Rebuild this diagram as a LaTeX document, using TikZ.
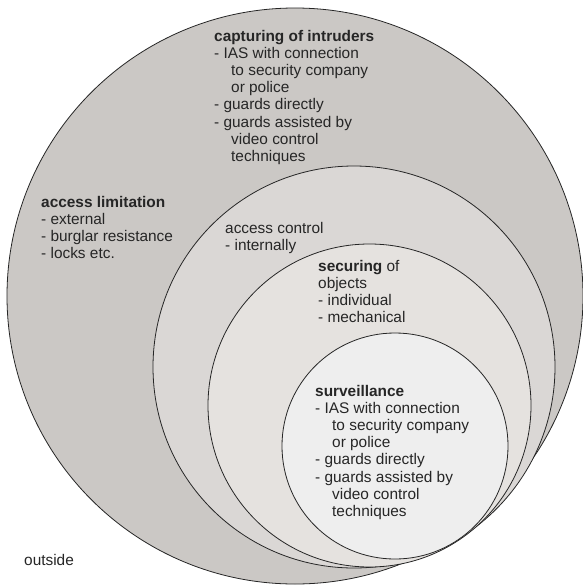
\documentclass[tikz,border=0pt]{standalone}
\usepackage{fontspec}
\setmainfont{Liberation Sans}
\definecolor{zoneA}{RGB}{203,200,197}
\definecolor{zoneB}{RGB}{218,215,213}
\definecolor{zoneC}{RGB}{229,226,223}
\definecolor{zoneD}{RGB}{238,238,238}
\newcommand{\ind}{\hspace*{17pt}}

\begin{document}
\begin{tikzpicture}[x=1pt,y=-1pt]
\tikzstyle{every node}+=[inner sep=0pt]
\tikzstyle{zone}=[draw=black!85, line width=0.8pt]
% base of a multi-line node is its last line
\tikzstyle{txt}=[anchor=base west, align=left, text=black!85, font=\fontsize{15.4}{17.2}\selectfont]
\useasboundingbox (0,0) rectangle (582,587);
\fill [white] (0,0) rectangle (582,587);
% nested zones
\draw [zone, fill=zoneA] (295,296) circle (288pt);
\draw [zone, fill=zoneB] (354,367) circle (201pt);
\draw [zone, fill=zoneC] (369.5,405.5) circle (161.5pt);
\draw [zone, fill=zoneD] (395,446) circle (113pt);
% texts
\node [txt] (capturing) at (214,161.4) {\textbf{capturing of intruders}\\
- IAS with connection\\ \ind to security company\\ \ind or police\\
- guards directly\\ - guards assisted by\\ \ind video control\\ \ind techniques};
\node [txt] (limitation) at (41,258.6) {\textbf{access limitation}\\
- external\\ - burglar resistance\\ - locks etc.};
\node [txt] (control) at (225,250.2) {access control\\ - internally};
\node [txt] (securing) at (318,322.6) {\textbf{securing} of\\ objects\\
- individual\\ - mechanical};
\node [txt] (surveillance) at (315,516.4) {\textbf{surveillance}\\
- IAS with connection\\ \ind to security company\\ \ind or police\\
- guards directly\\ - guards assisted by\\ \ind video control\\ \ind techniques};
\node [txt] (outside) at (24,565) {outside};
\end{tikzpicture}
\end{document}
